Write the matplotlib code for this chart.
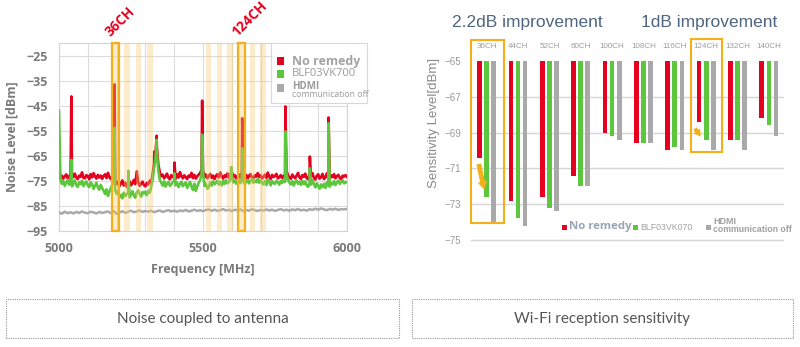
import numpy as np
import matplotlib.pyplot as plt
from matplotlib.patches import Rectangle

plt.rcParams['font.family'] = ['Liberation Sans', 'DejaVu Sans']

# ---- Noise spectrum at the antenna ----
freq_mhz = np.arange(5000, 6001, 5)

no_remedy_db = [
    -72.5, -73.8, -72.9, -74.1, -73.2, -72.4, -73.9, -73.0, -74.2, -72.8,
    -73.5, -72.1, -73.7, -74.3, -72.9, -73.4, -71.6, -73.8, -74.0, -72.7,
    -73.1, -74.4, -72.3, -73.6, -71.9, -73.3, -74.1, -72.6, -73.7, -72.9,
    -74.2, -73.0, -72.4, -73.9, -71.8, -73.5, -74.3, -73.1, -72.6, -74.6,
    -76.2, -75.4, -77.1, -76.0, -74.8, -76.9, -75.7, -77.3, -76.4, -75.2,
    -76.8, -75.9, -74.6, -76.3, -71.2, -75.5, -77.0, -76.1, -75.3, -76.7,
    -77.2, -75.8, -76.5, -74.9, -76.0, -72.4, -68.0, -64.5, -62.0, -68.5,
    -71.6, -73.2, -72.5, -74.0, -73.3, -72.1, -73.8, -74.4, -72.7, -73.5,
    -73.0, -74.2, -72.4, -73.7, -71.5, -73.1, -74.0, -72.8, -73.6, -74.3,
    -72.9, -73.4, -71.8, -73.9, -72.6, -74.1, -73.2, -72.5, -71.9, -70.5,
    -70.8, -73.6, -72.4, -74.0, -73.1, -72.2, -73.8, -72.9, -74.3, -73.0,
    -72.3, -73.7, -71.6, -73.2, -74.1, -72.8, -73.4, -72.0, -73.9, -72.5,
    -71.4, -73.3, -72.7, -74.0, -73.1, -72.4, -73.7, -71.3, -72.9, -73.8,
    -72.6, -74.2, -73.0, -72.3, -73.6, -74.0, -72.8, -73.3, -71.9, -73.5,
    -72.8, -74.1, -73.4, -72.5, -73.9, -71.7, -73.2, -74.3, -72.6, -73.5,
    -73.0, -72.2, -74.0, -73.6, -72.7, -73.9, -73.1, -72.4, -70.9, -72.8,
    -73.7, -74.2, -72.5, -73.3, -74.0, -72.9, -71.8, -73.6, -74.3, -72.7,
    -73.4, -72.1, -73.9, -74.4, -72.6, -73.2, -71.9, -73.8, -74.5, -73.0,
    -72.4, -74.1, -73.5, -72.2, -74.3, -73.6, -72.0, -73.9, -74.2, -72.8,
    -73.5, -72.3, -74.0, -73.1, -72.6, -73.8, -74.4, -72.9, -73.3, -72.7,
    -73.4,
]
blf_db = [
    -47.0, -74.5, -76.2, -75.1, -77.0, -75.8, -74.6, -76.5, -75.3, -77.2,
    -75.9, -74.8, -76.7, -77.4, -75.5, -76.3, -74.9, -77.1, -76.0, -75.2,
    -76.8, -77.5, -75.6, -76.4, -78.2, -76.9, -75.7, -77.6, -78.5, -76.6,
    -77.9, -79.0, -80.2, -78.4, -81.0, -79.3, -77.8, -76.5, -75.9, -78.8,
    -80.1, -79.2, -81.4, -80.6, -82.0, -79.7, -81.1, -80.3, -79.8, -81.6,
    -80.4, -79.1, -80.9, -81.7, -79.6, -78.8, -80.2, -81.3, -79.4, -80.0,
    -79.3, -80.7, -78.9, -79.8, -77.5, -74.5, -70.0, -66.0, -64.0, -71.0,
    -74.6, -75.8, -76.9, -75.2, -77.3, -76.1, -75.4, -77.0, -76.3, -75.5,
    -75.0, -76.8, -75.7, -77.5, -76.2, -75.3, -77.1, -76.4, -75.6, -77.8,
    -76.5, -75.4, -77.3, -78.6, -76.1, -79.0, -77.2, -75.8, -74.6, -72.5,
    -71.5, -77.0, -76.2, -78.1, -77.5, -75.6, -76.9, -75.2, -76.4, -75.8,
    -74.9, -76.5, -75.3, -76.8, -75.1, -76.2, -74.7, -76.0, -75.5, -74.2,
    -72.8, -75.6, -74.8, -76.1, -75.2, -74.5, -75.9, -73.8, -75.0, -76.3,
    -75.4, -74.6, -76.0, -75.1, -74.3, -75.8, -74.9, -75.5, -74.2, -75.7,
    -74.8, -75.9, -76.4, -75.0, -76.7, -74.5, -75.3, -76.8, -75.1, -75.9,
    -76.2, -74.9, -75.6, -76.5, -75.0, -75.8, -74.7, -75.4, -72.5, -74.6,
    -75.7, -76.4, -75.1, -76.9, -75.5, -74.8, -76.2, -75.3, -76.6, -75.0,
    -76.3, -75.2, -76.8, -77.4, -75.9, -76.5, -74.7, -76.1, -77.6, -76.0,
    -77.0, -78.1, -76.4, -77.5, -76.2, -77.8, -75.6, -76.9, -77.3, -75.8,
    -76.4, -75.1, -76.7, -75.5, -74.9, -76.2, -75.3, -74.8, -76.0, -75.4,
    -75.6,
]

# narrow emission peaks
red_spike_mhz = [5043, 5193, 5331, 5339, 5401, 5497, 5636, 5786, 5871, 5936]
red_spike_db = [-41.3, -36.5, -63.3, -57.0, -67.7, -43.0, -50.0, -45.3, -65.3, -49.7]
green_spike_mhz = [5043, 5193, 5241, 5339, 5401, 5497, 5598, 5636, 5786, 5871, 5936]
green_spike_db = [-66.6, -53.9, -71.0, -58.6, -72.0, -56.6, -69.5, -62.0, -55.3, -70.0, -52.0]

hdmi_off_mhz = np.arange(5000, 6001, 10)
hdmi_off_db = [
    -87.6, -88.1, -87.3, -87.9, -87.5, -88.0, -87.4, -87.8, -87.2, -87.7,
    -87.9, -87.3, -87.6, -88.0, -87.4, -87.8, -87.5, -87.2, -87.9, -87.0,
    -88.2, -87.6, -87.1, -87.8, -87.3, -86.9, -87.5, -87.2, -86.8, -87.4,
    -87.0, -87.3, -86.9, -87.5, -87.1, -86.8, -87.4, -87.0, -86.7, -87.2,
    -86.9, -87.3, -86.8, -87.1, -86.6, -87.2, -86.9, -86.5, -87.0, -86.7,
    -87.1, -86.6, -86.4, -86.9, -86.5, -87.0, -86.7, -86.3, -86.8, -86.6,
    -87.0, -86.5, -86.8, -86.4, -87.1, -86.6, -86.9, -86.3, -86.7, -87.0,
    -86.6, -86.9, -86.4, -86.8, -86.5, -87.0, -86.6, -86.3, -86.8, -86.5,
    -86.9, -86.4, -86.7, -86.2, -86.8, -86.5, -86.9, -86.3, -86.6, -86.1,
    -86.5, -86.0, -86.4, -86.7, -86.2, -86.5, -86.1, -86.6, -86.3, -86.4,
    -86.2,
]

band_names = ['36CH', '44CH', '52CH', '60CH', '100CH', '108CH', '116CH', '124CH', '132CH', '140CH']
band_lo_mhz = [5185, 5227, 5266, 5305, 5509, 5547, 5585, 5624, 5662, 5698]
marked_ch = ['36CH', '124CH']

# ---- Wi-Fi sensitivity per channel ----
channels = ['36CH', '44CH', '52CH', '60CH', '100CH', '108CH', '116CH', '124CH', '132CH', '140CH']
sens_no_remedy = [-70.4, -72.8, -72.6, -71.4, -69.0, -69.6, -70.0, -68.4, -69.4, -68.2]
sens_blf = [-72.6, -73.8, -73.2, -72.0, -69.2, -69.6, -69.8, -69.4, -69.4, -68.6]
sens_hdmi_off = [-74.0, -74.2, -73.4, -72.0, -69.4, -69.6, -70.0, -70.0, -70.0, -69.2]
improved = {'36CH': '2.2dB improvement', '124CH': '1dB improvement'}

RED = '#e60020'
GREEN = '#5cc63c'
GRAY = '#a9a9a9'
ORANGE = '#f4b01a'
BAND = '#f9c96a'


def with_spikes(f, v, sf, sv):
    f = np.concatenate([np.asarray(f, float), sf])
    v = np.concatenate([np.asarray(v, float), sv])
    order = np.argsort(f, kind='stable')
    return f[order], v[order]


fig = plt.figure(figsize=(8, 3.47), dpi=100)
fig.patch.set_facecolor('white')

# ---------------- left: noise spectrum ----------------
ax1 = fig.add_axes([0.07375, 0.3343, 0.36, 0.5418])
fr, vr = with_spikes(freq_mhz, no_remedy_db, red_spike_mhz, red_spike_db)
fg, vg = with_spikes(freq_mhz, blf_db, green_spike_mhz, green_spike_db)
ax1.plot(fr, vr, color=RED, lw=1.9, zorder=3)
ax1.plot(fg, vg, color=GREEN, lw=1.9, zorder=4)
ax1.plot(hdmi_off_mhz, hdmi_off_db, color=GRAY, lw=1.8, zorder=3)

for name, lo in zip(band_names, band_lo_mhz):
    ax1.axvspan(lo, lo + 20, color=BAND, alpha=0.35, lw=0, zorder=5)
    if name in marked_ch:
        ax1.add_patch(Rectangle((lo - 1, -95), 23, 75, fill=False, ec=ORANGE,
                               lw=1.6, zorder=6, clip_on=False))
        ax1.text(lo + 1, -18.5, name, rotation=45, rotation_mode='anchor',
                 ha='left', va='bottom', color=RED, fontweight='bold',
                 fontsize=10, family='Open Sans', clip_on=False)

ax1.set_xlim(5000, 6000)
ax1.set_ylim(-95, -20)
ax1.set_xticks([5000, 5500, 6000])
ax1.set_xticks(np.arange(5000, 6001, 100), minor=True)
ax1.set_yticks(np.arange(-95, -24, 10))
ax1.grid(True, which='both', color='#dcdcdc', lw=0.8, zorder=0)
ax1.set_axisbelow(True)
ax1.tick_params(which='both', length=0, pad=8, colors='#7a7a7a', labelsize=9)
for lbl in ax1.get_xticklabels() + ax1.get_yticklabels():
    lbl.set_fontweight('bold')
    lbl.set_family('Open Sans')
for sp in ax1.spines.values():
    sp.set_color('#d4d4d4')
    sp.set_linewidth(0.8)
ax1.set_xlabel('Frequency [MHz]', color='#7a7a7a', fontsize=9, fontweight='bold',
               family='Open Sans', labelpad=6)
ax1.set_ylabel('Noise Level [dBm]', color='#7a7a7a', fontsize=9, fontweight='bold',
               family='Open Sans', labelpad=6)

# legend box, hand placed so the two-size HDMI label fits
fig.add_artist(Rectangle((271 / 800, 1 - 103 / 347), 96 / 800, 60 / 347,
                         transform=fig.transFigure, fc='white', ec='#d8d8d8', lw=0.8, zorder=7))
leg_rows = [(RED, 61), (GREEN, 74), (GRAY, 88)]
for color, yp in leg_rows:
    fig.add_artist(Rectangle((277 / 800, 1 - (yp + 4) / 347), 7 / 800, 8 / 347,
                             transform=fig.transFigure, fc=color, ec='none', zorder=8))
fig.text(292 / 800, 1 - 61 / 347, 'No remedy', color='#a3a3a3', fontsize=9,
         fontweight='bold', family='Open Sans', va='center', zorder=9)
fig.text(292 / 800, 1 - 74 / 347, 'BLF03VK700', color='#9a9a9a', fontsize=8,
         family='Open Sans', va='center', zorder=9)
fig.text(292 / 800, 1 - 86.5 / 347, 'HDMI', color='#9a9a9a', fontsize=7,
         fontweight='bold', family='Open Sans', va='center', zorder=9)
fig.text(292 / 800, 1 - 95 / 347, 'communication off', color='#9a9a9a', fontsize=6.2,
         family='Open Sans', va='center', zorder=9)

# ---------------- right: sensitivity bars ----------------
ax2 = fig.add_axes([0.58875, 0.3084, 0.39, 0.5764])
x = np.arange(len(channels))
off, bw = 0.226, 0.15
ax2.bar(x - off, np.array(sens_no_remedy) + 65, bottom=-65, width=bw, color=RED, zorder=3)
ax2.bar(x, np.array(sens_blf) + 65, bottom=-65, width=bw, color=GREEN, zorder=3)
ax2.bar(x + off, np.array(sens_hdmi_off) + 65, bottom=-65, width=bw, color=GRAY, zorder=3)

ax2.set_xlim(-0.5, 9.45)
ax2.set_ylim(-75, -63.83)
for yv in [-67, -69, -71, -73, -75]:
    ax2.axhline(yv, color='#d6d6d6', lw=1.0, zorder=1, clip_on=False)
ax2.set_yticks(np.arange(-75, -64, 2))
ax2.set_xticks([])
ax2.tick_params(axis='y', length=0, pad=7, colors='#9a9a9a', labelsize=7)
for sp in ax2.spines.values():
    sp.set_visible(False)
ax2.set_ylabel('Sensitivity Level[dBm]', color='#8a8a8a', fontsize=9.5)
ax2.yaxis.set_label_coords(-0.1, 0.585)

for i, ch in enumerate(channels):
    ax2.text(i, -64.2, ch, ha='center', va='center', fontsize=5.8,
             color='#9c9c9c', family='Liberation Sans')

# highlighted channels: frame, arrow and gain text
i36 = channels.index('36CH')
i124 = channels.index('124CH')
ax2.add_patch(Rectangle((i36 - 0.5, -74.05), 1.05, 10.22, fill=False, ec=ORANGE,
                        lw=1.5, zorder=4, clip_on=False))
ax2.add_patch(Rectangle((i124 - 0.48, -70.08), 0.99, 6.31, fill=False, ec=ORANGE,
                        lw=1.5, zorder=4, clip_on=False))
ax2.annotate('', xy=(i36 - 0.06, -72.35), xytext=(i36 - 0.27, -70.6),
             arrowprops=dict(arrowstyle='simple,head_width=0.7,head_length=0.6,tail_width=0.35',
                             fc=ORANGE, ec='none'), zorder=5)
ax2.annotate('', xy=(i124 - 0.12, -69.35), xytext=(i124 - 0.41, -68.65),
             arrowprops=dict(arrowstyle='simple,head_width=0.6,head_length=0.5,tail_width=0.3',
                             fc=ORANGE, ec='none'), zorder=5)

fig.text(527 / 800, 1 - 23 / 347, improved['36CH'], ha='center', va='center',
         fontsize=12.5, color='#4f6580')
fig.text(709 / 800, 1 - 23 / 347, improved['124CH'], ha='center', va='center',
         fontsize=12.5, color='#4f6580')

# bottom legend of the bar chart
fig.add_artist(Rectangle((562 / 800, 1 - 230 / 347), 4.5 / 800, 5 / 347,
                         transform=fig.transFigure, fc=RED, ec='none'))
fig.text(569 / 800, 1 - 227 / 347, 'No remedy', color='#98a4b6', fontsize=8.2,
         fontweight='bold', family='Open Sans', va='center')
fig.add_artist(Rectangle((633 / 800, 1 - 230 / 347), 4.5 / 800, 5 / 347,
                         transform=fig.transFigure, fc=GREEN, ec='none'))
fig.text(640 / 800, 1 - 227 / 347, 'BLF03VK070', color='#a0a0a0', fontsize=6.3,
         va='center')
fig.add_artist(Rectangle((706 / 800, 1 - 230 / 347), 4.5 / 800, 5 / 347,
                         transform=fig.transFigure, fc=GRAY, ec='none'))
fig.text(713 / 800, 1 - 221.5 / 347, 'HDMI', color='#a0a0a0', fontsize=6.5,
         fontweight='bold', va='center')
fig.text(713 / 800, 1 - 229 / 347, 'communication off', color='#a0a0a0', fontsize=6.3,
         fontweight='bold', va='center')

# ---------------- captions ----------------
captions = [(6, 399, 'Noise coupled to antenna'), (412, 793, 'Wi-Fi reception sensitivity')]
for x0, x1, txt in captions:
    fig.add_artist(Rectangle((x0 / 800, 1 - 338 / 347), (x1 - x0) / 800, 39 / 347,
                             transform=fig.transFigure, fill=False, ec='#9a9a9a',
                             lw=0.8, ls=(0, (1, 1))))
    fig.text((x0 + x1) / 2 / 800, 1 - 319 / 347, txt, ha='center', va='center',
             fontsize=11, color='#555555', family='Lato')

fig.savefig('out.png', dpi=100, facecolor='white')
